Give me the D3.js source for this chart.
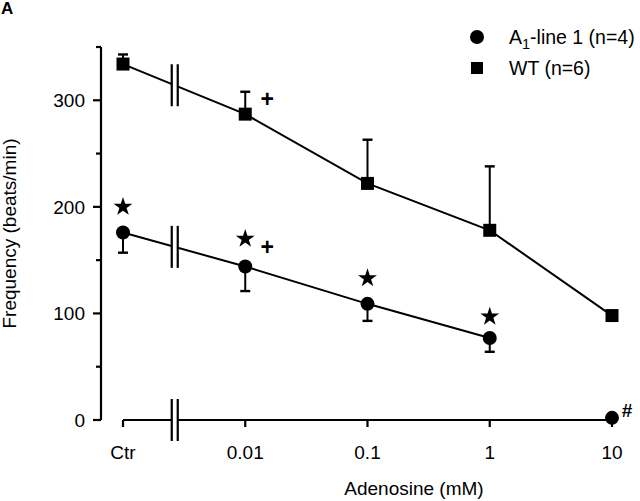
<!DOCTYPE html>
<html><head><meta charset="utf-8">
<script src="https://cdn.jsdelivr.net/npm/d3@7"></script>
<style>
html,body{margin:0;padding:0;background:#fff;}
svg text{font-family:"Liberation Sans",Arial,Helvetica,sans-serif;fill:#000;}
</style></head>
<body><svg id="c" width="640" height="501"></svg>
<script>
// ---- data ----
const concentrations = [0.001, 0.01, 0.1, 1, 10];           // 0.001 stands for "Ctr"
const tickLabels = ["Ctr", "0.01", "0.1", "1", "10"];
const wtMean = [334, 287, 222, 178, 98];
const wtErrUp = [9, 21, 41, 60, 0];
const a1Conc = [0.001, 0.01, 0.1, 1, 10];
const a1Mean = [176, 144, 109, 77, 2];
const a1ErrDown = [19, 23, 16, 13, 0];
const a1LineCount = 4; // line connects first 4 points
const yTicksMajor = [0, 100, 200, 300];
const yTicksMinor = [50, 150, 250, 350];
const starConc = [0.001, 0.01, 0.1, 1];
const starVal = [200, 170, 133, 97];
const plusConc = [0.01, 0.01];
const plusVal = [162, 301];
const hashConc = [10];
const hashVal = [9];
const breakConc = 0.00265;

const svg = d3.select("#c");
const x = d3.scaleLog().domain([0.001, 10]).range([123, 612]);
const y = d3.scaleLinear().domain([0, 350]).range([420, 47]);
const FS = 19;

// panel letter
svg.append("text").attr("x", 1).attr("y", 14).attr("font-size", 17).attr("font-weight", "bold").text("A");

// y axis
const ya = svg.append("g").attr("transform", "translate(101,0)");
ya.append("line").attr("y1", y(350)).attr("y2", y(0)).attr("stroke", "#000").attr("stroke-width", 2.2);
yTicksMajor.forEach(v => {
  ya.append("line").attr("x1", -8).attr("x2", 0).attr("y1", y(v)).attr("y2", y(v)).attr("stroke", "#000").attr("stroke-width", 2.2);
  ya.append("text").attr("x", -16).attr("y", y(v)).attr("dy", "0.36em").attr("text-anchor", "end").attr("font-size", FS).text(v);
});
yTicksMinor.forEach(v => {
  ya.append("line").attr("x1", -5).attr("x2", 0).attr("y1", y(v)).attr("y2", y(v)).attr("stroke", "#000").attr("stroke-width", 2.2);
});
svg.append("text").attr("transform", `translate(16,${(y(0)+y(350))/2}) rotate(-90)`)
  .attr("text-anchor", "middle").attr("font-size", FS).text("Frequency (beats/min)");

// x axis
const xa = svg.append("g");
xa.append("line").attr("x1", x(0.001)).attr("x2", x(10)).attr("y1", y(0)).attr("y2", y(0)).attr("stroke", "#000").attr("stroke-width", 2.2);
concentrations.forEach((c, i) => {
  xa.append("line").attr("x1", x(c)).attr("x2", x(c)).attr("y1", y(0)).attr("y2", y(0) + 7).attr("stroke", "#000").attr("stroke-width", 2.2);
  xa.append("text").attr("x", x(c)).attr("y", y(0) + 39).attr("text-anchor", "middle").attr("font-size", FS).text(tickLabels[i]);
});
svg.append("text").attr("x", 414).attr("y", 495).attr("text-anchor", "middle").attr("font-size", FS).text("Adenosine (mM)");

// lines
const line = d3.line().x(d => x(d[0])).y(d => y(d[1]));
const wtPts = concentrations.map((c, i) => [c, wtMean[i]]);
const a1Pts = a1Conc.slice(0, a1LineCount).map((c, i) => [c, a1Mean[i]]);
svg.append("path").attr("d", line(wtPts)).attr("fill", "none").attr("stroke", "#000").attr("stroke-width", 2);
svg.append("path").attr("d", line(a1Pts)).attr("fill", "none").attr("stroke", "#000").attr("stroke-width", 2);

// break marks
function brk(cy) {
  const bx = x(breakConc);
  svg.append("rect").attr("x", bx - 2.5).attr("y", cy - 5).attr("width", 5).attr("height", 10).attr("fill", "#fff");
  [-3, 3].forEach(o => svg.append("line").attr("x1", bx + o).attr("x2", bx + o).attr("y1", cy - 21).attr("y2", cy + 21).attr("stroke", "#000").attr("stroke-width", 2.2));
}
function interp(pts, c) {
  const t = (Math.log10(c) - Math.log10(pts[0][0])) / (Math.log10(pts[1][0]) - Math.log10(pts[0][0]));
  return y(pts[0][1] + t * (pts[1][1] - pts[0][1]));
}
brk(interp(wtPts, breakConc));
brk(interp(a1Pts, breakConc));
brk(y(0));

// error bars
function ebar(cx, y0, y1) {
  svg.append("line").attr("x1", cx).attr("x2", cx).attr("y1", y0).attr("y2", y1).attr("stroke", "#000").attr("stroke-width", 2);
  svg.append("line").attr("x1", cx - 5).attr("x2", cx + 5).attr("y1", y1).attr("y2", y1).attr("stroke", "#000").attr("stroke-width", 2.4);
}
concentrations.forEach((c, i) => { if (wtErrUp[i] > 0) ebar(x(c), y(wtMean[i]), y(wtMean[i] + wtErrUp[i])); });
a1Conc.forEach((c, i) => { if (a1ErrDown[i] > 0) ebar(x(c), y(a1Mean[i]), y(a1Mean[i] - a1ErrDown[i])); });

// markers
concentrations.forEach((c, i) => {
  svg.append("rect").attr("x", x(c) - 6.5).attr("y", y(wtMean[i]) - 6.5).attr("width", 13).attr("height", 13).attr("fill", "#000");
});
a1Conc.forEach((c, i) => {
  svg.append("circle").attr("cx", x(c)).attr("cy", y(a1Mean[i])).attr("r", 7).attr("fill", "#000");
});

// annotations
const star = d3.symbol().type(d3.symbolStar).size(110);
starConc.forEach((c, i) => {
  svg.append("path").attr("d", star()).attr("transform", `translate(${x(c)},${y(starVal[i])})`).attr("fill", "#000");
});
plusConc.forEach((c, i) => {
  svg.append("text").attr("x", x(c) + 22).attr("y", y(plusVal[i])).attr("dy", "0.35em").attr("text-anchor", "middle")
    .attr("font-size", 23).attr("font-weight", "bold").text("+");
});
hashConc.forEach((c, i) => {
  svg.append("text").attr("x", x(c) + 15).attr("y", y(hashVal[i])).attr("dy", "0.35em").attr("text-anchor", "middle")
    .attr("font-size", 19).attr("font-weight", "bold").text("#");
});

// legend
const lg = svg.append("g");
lg.append("circle").attr("cx", 477).attr("cy", 37).attr("r", 7).attr("fill", "#000");
const t1 = lg.append("text").attr("x", 509).attr("y", 44).attr("font-size", 19.5);
t1.append("tspan").text("A");
t1.append("tspan").attr("font-size", 14.5).attr("dy", 5).text("1");
t1.append("tspan").attr("dy", -5).text("-line 1 (n=4)");
lg.append("rect").attr("x", 471).attr("y", 62).attr("width", 12).attr("height", 12).attr("fill", "#000");
lg.append("text").attr("x", 509).attr("y", 75).attr("font-size", 19.5).text("WT (n=6)");
</script></body></html>
